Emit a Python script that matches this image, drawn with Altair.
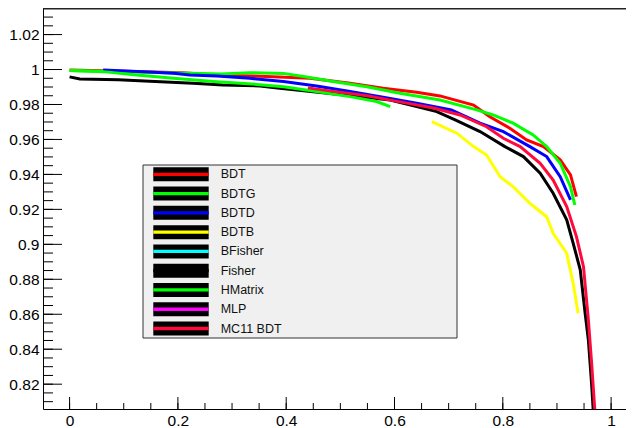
import altair as alt
import pandas as pd

# ---- data ----
bdt_x = [0.0, 0.1, 0.209, 0.278, 0.339, 0.444, 0.518, 0.579, 0.641, 0.684, 0.746, 0.776, 0.813, 0.844, 0.875, 0.906, 0.925, 0.936]
bdt_y = [0.9998, 0.999, 0.9982, 0.9968, 0.9963, 0.995, 0.9922, 0.9893, 0.987, 0.9849, 0.9797, 0.973, 0.9664, 0.9597, 0.9559, 0.9483, 0.9397, 0.9273]

bdtg_x = [0.0, 0.1, 0.2, 0.28, 0.333, 0.395, 0.432, 0.487, 0.549, 0.61, 0.684, 0.752, 0.782, 0.819, 0.856, 0.881, 0.906, 0.925, 0.933]
bdtg_y = [0.9994, 0.9988, 0.998, 0.9975, 0.9982, 0.9978, 0.996, 0.9931, 0.9902, 0.9864, 0.9826, 0.9769, 0.974, 0.9693, 0.9626, 0.9559, 0.9464, 0.933, 0.9225]

bdtd_x = [0.062, 0.136, 0.192, 0.222, 0.272, 0.333, 0.395, 0.456, 0.518, 0.579, 0.641, 0.705, 0.758, 0.801, 0.850, 0.881, 0.906, 0.925]
bdtd_y = [0.9998, 0.9988, 0.9979, 0.9969, 0.9963, 0.995, 0.9931, 0.9906, 0.9874, 0.9841, 0.9807, 0.9769, 0.9693, 0.9645, 0.9559, 0.9502, 0.9387, 0.9254]

bdtb_x = [0.669, 0.715, 0.746, 0.770, 0.795, 0.819, 0.850, 0.881, 0.893, 0.918, 0.930, 0.939]
bdtb_y = [0.9702, 0.9636, 0.9559, 0.9511, 0.9387, 0.933, 0.9235, 0.9158, 0.9063, 0.8949, 0.8777, 0.8606]

fisher_x = [0.0, 0.019, 0.09, 0.148, 0.228, 0.283, 0.352, 0.388, 0.45, 0.52, 0.592, 0.641, 0.678, 0.712, 0.758, 0.804, 0.838, 0.869, 0.893, 0.918, 0.930, 0.943, 0.952, 0.958, 0.964, 0.968]
fisher_y = [0.9958, 0.9946, 0.9941, 0.9933, 0.9922, 0.9912, 0.9906, 0.9893, 0.9873, 0.985, 0.9826, 0.9788, 0.9759, 0.9712, 0.9645, 0.9559, 0.9502, 0.9407, 0.9292, 0.914, 0.9006, 0.8854, 0.8606, 0.8453, 0.82, 0.80]

hmatrix_x = [0.0, 0.062, 0.124, 0.192, 0.265, 0.345, 0.395, 0.456, 0.518, 0.567, 0.592]
hmatrix_y = [0.9994, 0.9988, 0.9969, 0.995, 0.9931, 0.9915, 0.9902, 0.9874, 0.9845, 0.9817, 0.9788]

mc11_x = [0.44, 0.487, 0.549, 0.61, 0.672, 0.721, 0.770, 0.801, 0.832, 0.869, 0.893, 0.918, 0.936, 0.949, 0.958, 0.964, 0.971]
mc11_y = [0.9895, 0.9875, 0.985, 0.9815, 0.978, 0.974, 0.9673, 0.9607, 0.9559, 0.9464, 0.9368, 0.9216, 0.9044, 0.8872, 0.8568, 0.832, 0.80]

legend_labels = ["BDT", "BDTG", "BDTD", "BDTB", "BFisher", "Fisher", "HMatrix", "MLP", "MC11 BDT"]
legend_colors = ["#ff0000", "#00ff00", "#0000ff", "#ffff00", "#00ffff", "#000000", "#00ff00", "#ff00ff", "#ff0a3c"]

x_major = [0, 0.2, 0.4, 0.6, 0.8, 1.0]
x_minor = [i * 0.05 for i in range(21)]
y_major = [0.82, 0.84, 0.86, 0.88, 0.90, 0.92, 0.94, 0.96, 0.98, 1.0, 1.02]
y_minor = [round(0.81 + i * 0.005, 3) for i in range(46)]

# ---- layout ----
W, H = 583, 401
XDOM = [-0.0491, 1.0275]
YDOM = [0.8058, 1.0352]
FONT = "Liberation Sans"

xs = alt.Scale(domain=XDOM, nice=False, zero=False)
ys = alt.Scale(domain=YDOM, nice=False, zero=False)

x_axis = alt.Axis(values=x_major, format=".1~f", title=None, ticks=False, tickSize=0, grid=False,
                  domainColor="black", domainWidth=1, labelFont=FONT, labelFontSize=15.5,
                  labelColor="black", labelPadding=4, labelFlush=False, labelOverlap=False)
y_axis = alt.Axis(values=y_major, format=".2~f", title=None, ticks=False, tickSize=0, grid=False,
                  domainColor="black", domainWidth=1, labelFont=FONT, labelFontSize=15.5,
                  labelColor="black", labelPadding=4, labelOverlap=False)


def X(field):
    return alt.X(field, scale=xs, axis=x_axis)


def Y(field):
    return alt.Y(field, scale=ys, axis=y_axis)


series = [
    ("BDT", bdt_x, bdt_y, legend_colors[0]),
    ("BDTG", bdtg_x, bdtg_y, legend_colors[1]),
    ("BDTD", bdtd_x, bdtd_y, legend_colors[2]),
    ("BDTB", bdtb_x, bdtb_y, legend_colors[3]),
    ("Fisher", fisher_x, fisher_y, legend_colors[5]),
    ("HMatrix", hmatrix_x, hmatrix_y, legend_colors[6]),
    ("MC11 BDT", mc11_x, mc11_y, legend_colors[8]),
]

main_layers = []
for name, sx, sy, col in series:
    df = pd.DataFrame({"x": sx, "y": sy, "i": list(range(len(sx)))})
    main_layers.append(
        alt.Chart(df).mark_line(color=col, strokeWidth=3, clip=True).encode(
            x=X("x:Q"), y=Y("y:Q"), order="i:Q")
    )

# inward ticks (ROOT style)
main_layers.append(alt.Chart(pd.DataFrame({"v": y_minor})).mark_rule(color="black", strokeWidth=1).encode(
    y=Y("v:Q"), x=alt.value(0), x2=alt.value(10)))
main_layers.append(alt.Chart(pd.DataFrame({"v": y_major})).mark_rule(color="black", strokeWidth=1).encode(
    y=Y("v:Q"), x=alt.value(0), x2=alt.value(19)))
main_layers.append(alt.Chart(pd.DataFrame({"v": x_minor})).mark_rule(color="black", strokeWidth=1).encode(
    x=X("v:Q"), y=alt.value(H), y2=alt.value(H - 6)))
main_layers.append(alt.Chart(pd.DataFrame({"v": x_major})).mark_rule(color="black", strokeWidth=1).encode(
    x=X("v:Q"), y=alt.value(H), y2=alt.value(H - 12)))
# top frame line
main_layers.append(alt.Chart(pd.DataFrame({"a": [0]})).mark_rule(color="#222", strokeWidth=1.5).encode(
    x=alt.value(0), x2=alt.value(W), y=alt.value(0.75)))

main = alt.layer(*main_layers)

# ---- legend box ----
leg_df = pd.DataFrame({"label": legend_labels, "color": legend_colors, "row": list(range(len(legend_labels)))})
row_y = alt.Y("row:Q", scale=alt.Scale(domain=[0, 8], range=[166.3, 320.5]), axis=None)

box = alt.Chart(pd.DataFrame({"a": [0]})).mark_rect(fill="#f0f0f0", stroke="#333", strokeWidth=1).encode(
    x=alt.value(100), x2=alt.value(414), y=alt.value(157), y2=alt.value(330))
sw = alt.Chart(leg_df).mark_rule(color="black", strokeWidth=14, strokeCap="butt").encode(
    x=alt.value(110.3), x2=alt.value(165.7), y=row_y)
cl = alt.Chart(leg_df).mark_rule(strokeWidth=3.3, strokeCap="butt").encode(
    x=alt.value(110.3), x2=alt.value(165.7), y=row_y, color=alt.Color("color:N", scale=None))
tx = alt.Chart(leg_df).mark_text(align="left", baseline="middle", font=FONT, fontSize=12.5, color="#111").encode(
    x=alt.value(177.7), y=row_y, text="label:N")

legend = alt.layer(box, sw, cl, tx)

chart = alt.layer(main, legend).resolve_scale(x="independent", y="independent").properties(
    width=W, height=H,
    autosize=alt.AutoSizeParams(type="none"),
    padding={"left": 35, "top": 0, "right": 0, "bottom": 22},
    background="white",
).configure_view(stroke=None)

chart.save("out.html", embed_options={"renderer": "svg", "actions": False})
